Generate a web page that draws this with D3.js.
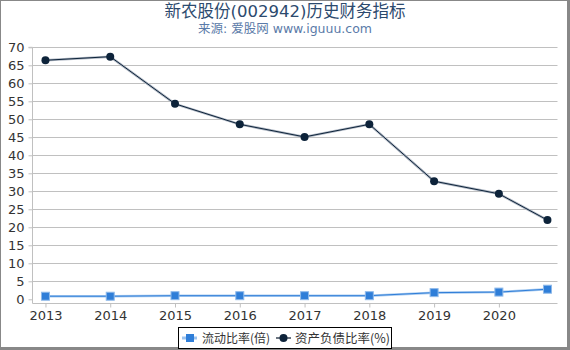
<!DOCTYPE html>
<html><head><meta charset="utf-8">
<script src="https://cdn.jsdelivr.net/npm/d3@7"></script>
<style>
html,body{margin:0;padding:0;background:#fff;}
svg{display:block;font-family:"DejaVu Sans","Noto Sans CJK SC",sans-serif;}
</style></head><body>
<svg id="c" width="570" height="350"></svg>
<script>
const titleText = "新农股份(002942)历史财务指标";
const subtitleText = "来源: 爱股网 www.iguuu.com";
const periods = [2013, 2014, 2015, 2016, 2017, 2018, 2019, 2020, 2020.75];
const tickYears = [2013, 2014, 2015, 2016, 2017, 2018, 2019, 2020];
const currentRatio = [0.85, 0.85, 1.0, 1.0, 1.0, 1.0, 1.85, 2.0, 2.8];
const debtRatio = [66.4, 67.4, 54.3, 48.6, 45.1, 48.6, 32.8, 29.3, 22.0];
const yTicks = [0, 5, 10, 15, 20, 25, 30, 35, 40, 45, 50, 55, 60, 65, 70];
const seriesNames = ["流动比率(倍)", "资产负债比率(%)"];

(function () {
const svg = d3.select("#c");
const W = 570, H = 350;
const pL = 32.5, pR = 557.5, pT = 47.3, pB = 303.5;

const x = d3.scaleLinear().domain([2012.8, 2020.905]).range([pL, pR]);
const y = d3.scaleLinear().domain([-1.17, 70]).range([pB, pT]);

// frame
svg.append("rect").attr("x", 0.5).attr("y", 0.5).attr("width", W - 2).attr("height", H - 2)
  .attr("fill", "none").attr("stroke", "#888").attr("stroke-width", 1);
svg.append("line").attr("x1", W - 1.5).attr("x2", W - 1.5).attr("y1", 0).attr("y2", H)
  .attr("stroke", "#888").attr("stroke-width", 3);
svg.append("line").attr("x1", 0).attr("x2", W).attr("y1", H - 1.5).attr("y2", H - 1.5)
  .attr("stroke", "#888").attr("stroke-width", 3);

// title
svg.append("text").attr("x", 285).attr("y", 17).attr("text-anchor", "middle")
  .attr("font-size", 16.5).attr("fill", "#2c4a6e").text(titleText);
svg.append("text").attr("x", 285).attr("y", 33).attr("text-anchor", "middle")
  .attr("font-size", 12.5).attr("fill", "#5a7aa8").text(subtitleText);

// grid
svg.append("g").selectAll("line").data(yTicks.filter(d => d > 0)).join("line")
  .attr("x1", pL).attr("x2", pR)
  .attr("y1", d => Math.round(y(d)) + 0.5).attr("y2", d => Math.round(y(d)) + 0.5)
  .attr("stroke", "#c0c0c0").attr("stroke-width", 1);

// y axis
const yAxis = d3.axisLeft(y).tickValues(yTicks).tickSize(4).tickPadding(4);
const gy = svg.append("g").attr("transform", `translate(${pL},0)`).call(yAxis);
gy.select(".domain").attr("stroke", "#c0c0c0").attr("d", `M-4,${pT}H0V${pB}`);
gy.selectAll(".tick line").attr("stroke", "#c0c0c0");
gy.selectAll(".tick text").attr("fill", "#333").attr("font-size", 13).attr("font-family", "DejaVu Sans");

// x axis
const xAxis = d3.axisBottom(x).tickValues(tickYears).tickFormat(d3.format("d")).tickSize(4).tickPadding(3);
const gx = svg.append("g").attr("transform", `translate(0,${pB})`).call(xAxis);
gx.select(".domain").attr("stroke", "#c0c0c0").attr("d", `M${pL},0H${pR}`);
gx.selectAll(".tick line").attr("stroke", "#c0c0c0");
gx.selectAll(".tick text").attr("fill", "#333").attr("font-size", 13).attr("font-family", "DejaVu Sans");

// current ratio line
const line1 = d3.line().x((d, i) => x(periods[i])).y(d => y(d));
svg.append("path").datum(currentRatio).attr("d", line1)
  .attr("fill", "none").attr("stroke", "#a9cbf0").attr("stroke-width", 2.5);
svg.append("path").datum(currentRatio).attr("d", line1)
  .attr("fill", "none").attr("stroke", "#2f7ed8").attr("stroke-width", 1);
svg.append("g").selectAll("rect").data(currentRatio).join("rect")
  .attr("x", (d, i) => x(periods[i]) - 4).attr("y", d => y(d) - 4)
  .attr("width", 8).attr("height", 8).attr("fill", "#2f7ed8")
  .attr("stroke", "#8fbaea").attr("stroke-width", 1);

// debt ratio line
svg.append("path").datum(debtRatio).attr("d", line1)
  .attr("fill", "none").attr("stroke", "#b0b8c4").attr("stroke-width", 2.5);
svg.append("path").datum(debtRatio).attr("d", line1)
  .attr("fill", "none").attr("stroke", "#0d233a").attr("stroke-width", 1);
svg.append("g").selectAll("circle").data(debtRatio).join("circle")
  .attr("cx", (d, i) => x(periods[i])).attr("cy", d => y(d)).attr("r", 4)
  .attr("fill", "#0d233a");

// legend
const lg = svg.append("g").attr("font-family", "'Noto Sans CJK SC', sans-serif");
lg.append("rect").attr("x", 178.5).attr("y", 327.5).attr("width", 213).attr("height", 21)
  .attr("fill", "#fff").attr("stroke", "#000").attr("stroke-width", 1);
lg.append("line").attr("x1", 182).attr("x2", 197).attr("y1", 338).attr("y2", 338)
  .attr("stroke", "#9cc3ee").attr("stroke-width", 3);
lg.append("rect").attr("x", 186).attr("y", 334).attr("width", 8).attr("height", 8).attr("fill", "#2f7ed8");
lg.append("text").attr("x", 202).attr("y", 342.5).attr("font-size", 12).attr("fill", "#333").text(seriesNames[0]);
lg.append("line").attr("x1", 276).attr("x2", 291).attr("y1", 338).attr("y2", 338)
  .attr("stroke", "#6b7480").attr("stroke-width", 2);
lg.append("circle").attr("cx", 283.5).attr("cy", 338).attr("r", 4).attr("fill", "#0d233a");
lg.append("text").attr("x", 295).attr("y", 342.5).attr("font-size", 12.5).attr("fill", "#333").text(seriesNames[1]);
})();
</script>
</body></html>
